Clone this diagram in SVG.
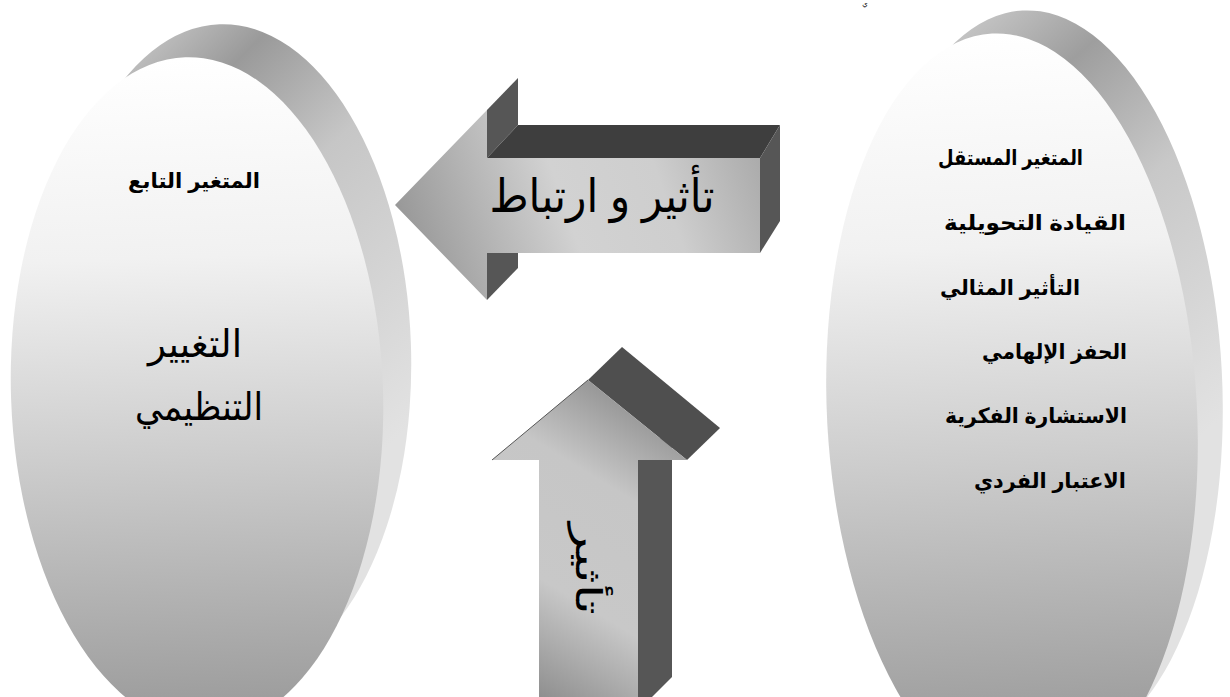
<svg xmlns="http://www.w3.org/2000/svg" width="1230" height="697" viewBox="0 0 1230 697">
<defs>
<style>
.t{font-family:"Liberation Sans","DejaVu Sans",sans-serif;fill:#000;}
.b{font-weight:bold;font-size:21px;}
.big{font-size:38px;}
.dark{fill:#565656;}
.top{fill:#3e3e3e;}
</style>
<linearGradient id="frontL" gradientUnits="userSpaceOnUse" x1="0" y1="58" x2="0" y2="720">
<stop offset="0" stop-color="#ffffff"/><stop offset="0.3" stop-color="#f1f1f1"/><stop offset="0.6" stop-color="#cdcdcd"/><stop offset="1" stop-color="#9a9a9a"/>
</linearGradient>
<linearGradient id="frontR" gradientUnits="userSpaceOnUse" x1="0" y1="33" x2="0" y2="740">
<stop offset="0" stop-color="#ffffff"/><stop offset="0.3" stop-color="#f1f1f1"/><stop offset="0.6" stop-color="#cdcdcd"/><stop offset="1" stop-color="#9a9a9a"/>
</linearGradient>
<linearGradient id="sideL" gradientUnits="userSpaceOnUse" x1="110" y1="70" x2="420" y2="420">
<stop offset="0" stop-color="#c4c4c4"/><stop offset="0.18" stop-color="#9a9a9a"/><stop offset="0.45" stop-color="#c6c6c6"/><stop offset="1" stop-color="#e2e2e2"/>
</linearGradient>
<linearGradient id="sideR" gradientUnits="userSpaceOnUse" x1="950" y1="50" x2="1230" y2="420">
<stop offset="0" stop-color="#c4c4c4"/><stop offset="0.2" stop-color="#9e9e9e"/><stop offset="0.5" stop-color="#c8c8c8"/><stop offset="1" stop-color="#e2e2e2"/>
</linearGradient>
<linearGradient id="arrL" gradientUnits="userSpaceOnUse" x1="400" y1="270" x2="770" y2="140">
<stop offset="0" stop-color="#929292"/><stop offset="0.45" stop-color="#d2d2d2"/><stop offset="0.7" stop-color="#cecece"/><stop offset="1" stop-color="#a6a6a6"/>
</linearGradient>
<linearGradient id="arrU" gradientUnits="userSpaceOnUse" x1="520" y1="700" x2="690" y2="420">
<stop offset="0" stop-color="#888888"/><stop offset="0.35" stop-color="#c8c8c8"/><stop offset="0.7" stop-color="#c6c6c6"/><stop offset="1" stop-color="#8c8c8c"/>
</linearGradient>
</defs>

<rect width="1230" height="697" fill="#ffffff"/>

<g id="node-dependent">
<ellipse cx="231" cy="350" rx="180" ry="326" transform="rotate(-2 231 350)" fill="url(#sideL)"/>
<ellipse cx="197" cy="393" rx="186" ry="336" transform="rotate(-2 197 393)" fill="url(#frontL)"/>
<text class="t b" x="194" y="188" text-anchor="middle" textLength="132" lengthAdjust="spacingAndGlyphs">المتغير التابع</text>
<text class="t big" x="195" y="357" text-anchor="middle" textLength="94" lengthAdjust="spacingAndGlyphs">التغيير</text>
<text class="t big" x="199" y="420" text-anchor="middle" textLength="128" lengthAdjust="spacingAndGlyphs">التنظيمي</text>
</g>

<g id="node-independent">
<ellipse cx="1042" cy="380" rx="180" ry="370" transform="rotate(-3 1042 380)" fill="url(#sideR)"/>
<ellipse cx="1012" cy="413" rx="185" ry="380" transform="rotate(-3 1012 413)" fill="url(#frontR)"/>
<text class="t b" x="1083" y="165" text-anchor="end" textLength="145" lengthAdjust="spacingAndGlyphs">المتغير المستقل</text>
<text class="t b" x="1126" y="230" text-anchor="end" textLength="182" lengthAdjust="spacingAndGlyphs">القيادة التحويلية</text>
<text class="t b" x="1080" y="295" text-anchor="end" textLength="140" lengthAdjust="spacingAndGlyphs">التأثير المثالي</text>
<text class="t b" x="1127" y="359" text-anchor="end" textLength="145" lengthAdjust="spacingAndGlyphs">الحفز الإلهامي</text>
<text class="t b" x="1127" y="423" text-anchor="end" textLength="182" lengthAdjust="spacingAndGlyphs">الاستشارة الفكرية</text>
<text class="t b" x="1126" y="488" text-anchor="end" textLength="152" lengthAdjust="spacingAndGlyphs">الاعتبار الفردي</text>
</g>

<g id="connectors">
<g id="arrow-influence">
<polygon class="dark" points="487,110 518,78 518,125 487,158"/>
<polygon class="top" points="487,158 518,125 780,125 760,158"/>
<polygon class="dark" points="760,158 780,125 780,221 760,253"/>
<polygon class="dark" points="487,253 518,253 518,268 487,300"/>
<polygon points="395,205 487,110 487,158 760,158 760,253 487,253 487,300" fill="url(#arrL)"/>
<text class="t" x="602" y="212" font-size="46" text-anchor="middle" textLength="225" lengthAdjust="spacingAndGlyphs">تأثير و ارتباط</text>
</g>
<g id="arrow-up">
<polygon class="dark" points="638,460 672,427 672,677 638,711"/>
<polygon fill="#4f4f4f" points="588,380 622,347 720,428 687,460"/>
<polygon points="588,380 687,460 638,460 638,711 539,711 539,460 492,460" fill="url(#arrU)"/>
<line x1="492" y1="460" x2="588" y2="380" stroke="#555" stroke-width="1"/>
<text class="t" transform="translate(576,569) rotate(90)" x="0" y="0" font-size="36" text-anchor="middle" textLength="92" lengthAdjust="spacingAndGlyphs">تأثير</text>
</g>
</g>

<text class="t" x="865" y="6" font-size="7" text-anchor="middle">ي</text>
</svg>
